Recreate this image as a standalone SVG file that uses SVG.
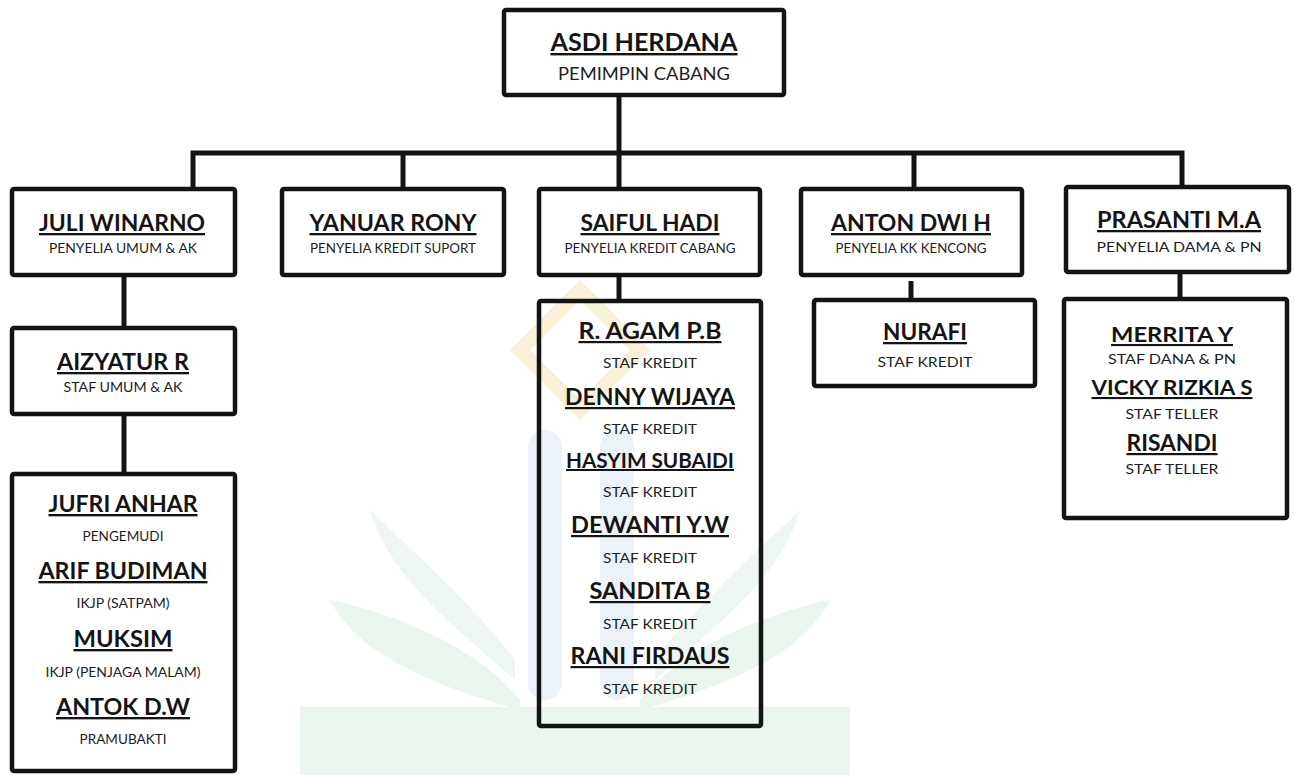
<svg xmlns="http://www.w3.org/2000/svg" width="1295" height="775" viewBox="0 0 1295 775">
<style>
text{font-family:Lato,"Liberation Sans",sans-serif;text-anchor:middle;fill:#141414}
.n{font-weight:700;text-decoration:underline}
.s{font-weight:400;fill:#1e1e1e}
.box{fill:none;stroke:#141414;stroke-width:4.5;stroke-linejoin:round}
.c{fill:none;stroke:#141414;stroke-width:5}
</style>
<rect width="1295" height="775" fill="#ffffff"/>
<g id="watermark" opacity="0.55">
  <rect x="300" y="707" width="550" height="68" fill="#dcefe2"/>
  <path d="M330 600 C380 610 470 640 520 700 L520 710 C450 690 360 660 330 600 Z" fill="#d9ede0"/>
  <path d="M830 600 C780 610 690 640 640 700 L640 710 C710 690 800 660 830 600 Z" fill="#d9ede0"/>
  <path d="M370 510 C400 540 470 600 515 660 L515 680 C460 630 390 580 370 510 Z" fill="#dff0e4"/>
  <path d="M800 510 C770 540 700 600 655 660 L655 680 C710 630 780 580 800 510 Z" fill="#dff0e4"/>
  <rect x="528" y="430" width="34" height="270" rx="17" fill="#dde9f5"/>
  <rect x="600" y="430" width="34" height="270" rx="17" fill="#dde9f5"/>
  <path d="M580 290 L640 350 L580 410 L520 350 Z" fill="none" stroke="#f3e3b8" stroke-width="14"/>
</g>
<g id="connectors">
  <path class="c" d="M619 97 V187"/>
  <path class="c" d="M193 187 V153 H1182 V185"/>
  <path class="c" d="M403 153 V187"/>
  <path class="c" d="M914 153 V187"/>
  <path class="c" d="M124 277 V326"/>
  <path class="c" d="M124 416 V472"/>
  <path class="c" d="M619 277 V299"/>
  <path class="c" d="M911 281 V298"/>
  <path class="c" d="M1180 274 V297"/>
</g>
<g id="asdi">
  <rect class="box" x="504" y="10" width="280" height="85" rx="2"/>
  <text class="n" x="644" y="51" font-size="24" textLength="187" lengthAdjust="spacingAndGlyphs">ASDI HERDANA</text>
  <text class="s" x="644" y="80" font-size="18" textLength="172" lengthAdjust="spacingAndGlyphs">PEMIMPIN CABANG</text>
</g>
<g id="juli">
  <rect class="box" x="12" y="189" width="223" height="86" rx="2"/>
  <text class="n" x="122" y="231" font-size="23" textLength="166" lengthAdjust="spacingAndGlyphs">JULI WINARNO</text>
  <text class="s" x="123" y="253" font-size="12.5" textLength="148" lengthAdjust="spacingAndGlyphs">PENYELIA UMUM &amp; AK</text>
</g>
<g id="yanuar">
  <rect class="box" x="282" y="189" width="222" height="86" rx="2"/>
  <text class="n" x="393" y="231" font-size="23" textLength="167" lengthAdjust="spacingAndGlyphs">YANUAR RONY</text>
  <text class="s" x="393" y="253" font-size="12.5" textLength="166" lengthAdjust="spacingAndGlyphs">PENYELIA KREDIT SUPORT</text>
</g>
<g id="saiful">
  <rect class="box" x="539" y="189" width="221" height="86" rx="2"/>
  <text class="n" x="650" y="231" font-size="23" textLength="139" lengthAdjust="spacingAndGlyphs">SAIFUL HADI</text>
  <text class="s" x="650" y="253" font-size="12.5" textLength="171" lengthAdjust="spacingAndGlyphs">PENYELIA KREDIT CABANG</text>
</g>
<g id="anton">
  <rect class="box" x="801" y="189" width="221" height="86" rx="2"/>
  <text class="n" x="911" y="231" font-size="23" textLength="160" lengthAdjust="spacingAndGlyphs">ANTON DWI H</text>
  <text class="s" x="911" y="253" font-size="12.5" textLength="151" lengthAdjust="spacingAndGlyphs">PENYELIA KK KENCONG</text>
</g>
<g id="prasanti">
  <rect class="box" x="1066" y="187" width="223" height="85" rx="2" stroke-width="5"/>
  <text class="n" x="1179" y="228" font-size="23" textLength="164" lengthAdjust="spacingAndGlyphs">PRASANTI M.A</text>
  <text class="s" x="1179" y="252" font-size="14" textLength="165" lengthAdjust="spacingAndGlyphs">PENYELIA DAMA &amp; PN</text>
</g>
<g id="aizyatur">
  <rect class="box" x="12" y="328" width="223" height="86" rx="2"/>
  <text class="n" x="123" y="370" font-size="23" textLength="132" lengthAdjust="spacingAndGlyphs">AIZYATUR R</text>
  <text class="s" x="123" y="392" font-size="13" textLength="119" lengthAdjust="spacingAndGlyphs">STAF UMUM &amp; AK</text>
</g>
<g id="umum-staff">
  <rect class="box" x="12" y="474" width="223" height="297" rx="2"/>
  <text class="n" x="123" y="512" font-size="23.5" textLength="149" lengthAdjust="spacingAndGlyphs">JUFRI ANHAR</text>
  <text class="s" x="123" y="541" font-size="13" textLength="81" lengthAdjust="spacingAndGlyphs">PENGEMUDI</text>
  <text class="n" x="123" y="579" font-size="23.5" textLength="169" lengthAdjust="spacingAndGlyphs">ARIF BUDIMAN</text>
  <text class="s" x="123" y="608" font-size="13" textLength="93" lengthAdjust="spacingAndGlyphs">IKJP (SATPAM)</text>
  <text class="n" x="123" y="647" font-size="23.5" textLength="99" lengthAdjust="spacingAndGlyphs">MUKSIM</text>
  <text class="s" x="123" y="677" font-size="13" textLength="155" lengthAdjust="spacingAndGlyphs">IKJP (PENJAGA MALAM)</text>
  <text class="n" x="123" y="715" font-size="23.5" textLength="134" lengthAdjust="spacingAndGlyphs">ANTOK D.W</text>
  <text class="s" x="123" y="744" font-size="13" textLength="87" lengthAdjust="spacingAndGlyphs">PRAMUBAKTI</text>
</g>
<g id="kredit-staff">
  <rect class="box" x="539" y="301" width="222" height="425" rx="2"/>
  <text class="n" x="650" y="339" font-size="22" textLength="143" lengthAdjust="spacingAndGlyphs">R. AGAM P.B</text>
  <text class="s" x="650" y="368" font-size="14" textLength="94" lengthAdjust="spacingAndGlyphs">STAF KREDIT</text>
  <text class="n" x="650" y="405" font-size="22" textLength="170" lengthAdjust="spacingAndGlyphs">DENNY WIJAYA</text>
  <text class="s" x="650" y="434" font-size="14" textLength="94" lengthAdjust="spacingAndGlyphs">STAF KREDIT</text>
  <text class="n" x="650" y="468" font-size="20" textLength="168" lengthAdjust="spacingAndGlyphs">HASYIM SUBAIDI</text>
  <text class="s" x="650" y="497" font-size="14" textLength="94" lengthAdjust="spacingAndGlyphs">STAF KREDIT</text>
  <text class="n" x="650" y="533" font-size="22" textLength="158" lengthAdjust="spacingAndGlyphs">DEWANTI Y.W</text>
  <text class="s" x="650" y="563" font-size="14" textLength="94" lengthAdjust="spacingAndGlyphs">STAF KREDIT</text>
  <text class="n" x="650" y="599" font-size="22" textLength="121" lengthAdjust="spacingAndGlyphs">SANDITA B</text>
  <text class="s" x="650" y="629" font-size="14" textLength="94" lengthAdjust="spacingAndGlyphs">STAF KREDIT</text>
  <text class="n" x="650" y="664" font-size="22" textLength="159" lengthAdjust="spacingAndGlyphs">RANI FIRDAUS</text>
  <text class="s" x="650" y="694" font-size="14" textLength="94" lengthAdjust="spacingAndGlyphs">STAF KREDIT</text>
</g>
<g id="nurafi">
  <rect class="box" x="814" y="300" width="221" height="86" rx="2"/>
  <text class="n" x="925" y="340" font-size="23" textLength="84" lengthAdjust="spacingAndGlyphs">NURAFI</text>
  <text class="s" x="925" y="367" font-size="14" textLength="95" lengthAdjust="spacingAndGlyphs">STAF KREDIT</text>
</g>
<g id="dana-staff">
  <rect class="box" x="1064" y="299" width="223" height="219" rx="2"/>
  <text class="n" x="1172" y="342" font-size="21" textLength="122" lengthAdjust="spacingAndGlyphs">MERRITA Y</text>
  <text class="s" x="1172" y="364" font-size="14" textLength="128" lengthAdjust="spacingAndGlyphs">STAF DANA &amp; PN</text>
  <text class="n" x="1172" y="395" font-size="21" textLength="161" lengthAdjust="spacingAndGlyphs">VICKY RIZKIA S</text>
  <text class="s" x="1172" y="419" font-size="14" textLength="93" lengthAdjust="spacingAndGlyphs">STAF TELLER</text>
  <text class="n" x="1172" y="451" font-size="22" textLength="91" lengthAdjust="spacingAndGlyphs">RISANDI</text>
  <text class="s" x="1172" y="474" font-size="14" textLength="93" lengthAdjust="spacingAndGlyphs">STAF TELLER</text>
</g>
</svg>
